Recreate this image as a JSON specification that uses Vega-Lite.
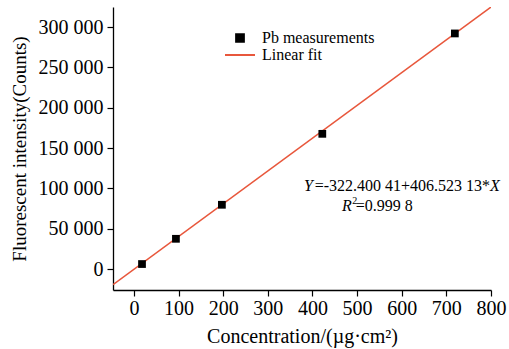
{
  "$schema": "https://vega.github.io/schema/vega-lite/v6.json",
  "width": 378,
  "height": 283,
  "autosize": {"type": "none"},
  "padding": {"left": 113, "top": 7, "right": 18, "bottom": 59},
  "background": "white",
  "config": {
    "view": {"stroke": null},
    "font": "Liberation Serif",
    "axis": {
      "grid": false,
      "domainColor": "black",
      "domainWidth": 1.3,
      "tickColor": "black",
      "tickWidth": 1.2,
      "tickSize": 6,
      "labelOverlap": false,
      "labelFont": "Liberation Serif",
      "labelFontSize": 20,
      "labelColor": "black",
      "titleFont": "Liberation Serif",
      "titleFontSize": 19,
      "titleFontWeight": "normal",
      "titleColor": "black"
    }
  },
  "datasets": {
    "points": [
      {"conc": 18, "intensity": 6200, "series": "Pb measurements"},
      {"conc": 94, "intensity": 37500, "series": "Pb measurements"},
      {"conc": 197, "intensity": 79700, "series": "Pb measurements"},
      {"conc": 422, "intensity": 167700, "series": "Pb measurements"},
      {"conc": 719, "intensity": 292200, "series": "Pb measurements"}
    ],
    "fit": [
      {"conc": -47, "intensity": -19429, "series": "Linear fit"},
      {"conc": 800, "intensity": 324896, "series": "Linear fit"}
    ]
  },
  "layer": [
    {
      "data": {"name": "fit"},
      "mark": {"type": "line", "strokeWidth": 1.6, "clip": true},
      "encoding": {
        "x": {"field": "conc", "type": "quantitative",
          "scale": {"domain": [-47, 800], "nice": false, "zero": false},
          "axis": {"values": [0, 100, 200, 300, 400, 500, 600, 700, 800], "title": "Concentration/(µg·cm²)", "titleFontSize": 20, "labelPadding": 2, "titlePadding": 8, "labelFlush": false}},
        "y": {"field": "intensity", "type": "quantitative",
          "scale": {"domain": [-26000, 325000], "nice": false, "zero": false},
          "axis": {"values": [0, 50000, 100000, 150000, 200000, 250000, 300000],
            "labelExpr": "replace(format(datum.value, ','), ',', ' ')",
            "title": "Fluorescent intensity(Counts)", "labelPadding": 4, "titlePadding": 9}},
        "color": {"field": "series", "type": "nominal",
          "scale": {"domain": ["Pb measurements", "Linear fit"], "range": ["black", "#e8573c"]},
          "legend": {
            "title": null,
            "orient": "none",
            "legendX": 119,
            "legendY": 23,
            "padding": 0,
            "symbolSize": 100,
            "labelOffset": 14,
            "rowPadding": 1,
            "labelFont": "Liberation Serif",
            "labelFontSize": 16,
            "labelColor": "black",
            "encode": {
              "symbols": {
                "update": {
                  "shape": {"signal": "datum.value === 'Linear fit' ? 'stroke' : 'square'"},
                  "size": {"signal": "datum.value === 'Linear fit' ? 900 : 60"},
                  "fill": {"signal": "datum.value === 'Linear fit' ? 'transparent' : 'black'"},
                  "stroke": {"signal": "datum.value === 'Linear fit' ? '#ee7a5e' : 'transparent'"},
                  "strokeWidth": {"value": 2},
                  "opacity": {"value": 1}
                }
              }
            }
          }}
      }
    },
    {
      "data": {"name": "points"},
      "mark": {"type": "point", "shape": "square", "filled": true, "size": 60, "opacity": 1},
      "encoding": {
        "x": {"field": "conc", "type": "quantitative"},
        "y": {"field": "intensity", "type": "quantitative"},
        "color": {"field": "series", "type": "nominal"}
      }
    },
    {
      "data": {"values": [
        {"conc": 401, "intensity": 102900, "label": "Y"},
        {"conc": 488, "intensity": 78100, "label": "R"}
      ]},
      "mark": {"type": "text", "fontStyle": "italic", "fontSize": 16, "align": "right", "baseline": "middle", "color": "black", "font": "Liberation Serif"},
      "encoding": {
        "x": {"field": "conc", "type": "quantitative"},
        "y": {"field": "intensity", "type": "quantitative"},
        "text": {"field": "label"}
      }
    },
    {
      "data": {"values": [
        {"conc": 798, "intensity": 102900, "label": "X"}
      ]},
      "mark": {"type": "text", "fontStyle": "italic", "fontSize": 16, "align": "left", "baseline": "middle", "color": "black", "font": "Liberation Serif"},
      "encoding": {
        "x": {"field": "conc", "type": "quantitative"},
        "y": {"field": "intensity", "type": "quantitative"},
        "text": {"field": "label"}
      }
    },
    {
      "data": {"values": [
        {"conc": 798, "intensity": 102900, "label": "=-322.400 41+406.523 13*"}
      ]},
      "mark": {"type": "text", "fontSize": 16, "align": "right", "baseline": "middle", "color": "black", "font": "Liberation Serif"},
      "encoding": {
        "x": {"field": "conc", "type": "quantitative"},
        "y": {"field": "intensity", "type": "quantitative"},
        "text": {"field": "label"}
      }
    },
    {
      "data": {"values": [
        {"conc": 497, "intensity": 78100, "label": "=0.999 8"}
      ]},
      "mark": {"type": "text", "fontSize": 16, "align": "left", "baseline": "middle", "color": "black", "font": "Liberation Serif"},
      "encoding": {
        "x": {"field": "conc", "type": "quantitative"},
        "y": {"field": "intensity", "type": "quantitative"},
        "text": {"field": "label"}
      }
    },
    {
      "data": {"values": [
        {"conc": 489, "intensity": 84500, "label": "2"}
      ]},
      "mark": {"type": "text", "fontSize": 10, "align": "left", "baseline": "middle", "color": "black", "font": "Liberation Serif"},
      "encoding": {
        "x": {"field": "conc", "type": "quantitative"},
        "y": {"field": "intensity", "type": "quantitative"},
        "text": {"field": "label"}
      }
    }
  ]
}
